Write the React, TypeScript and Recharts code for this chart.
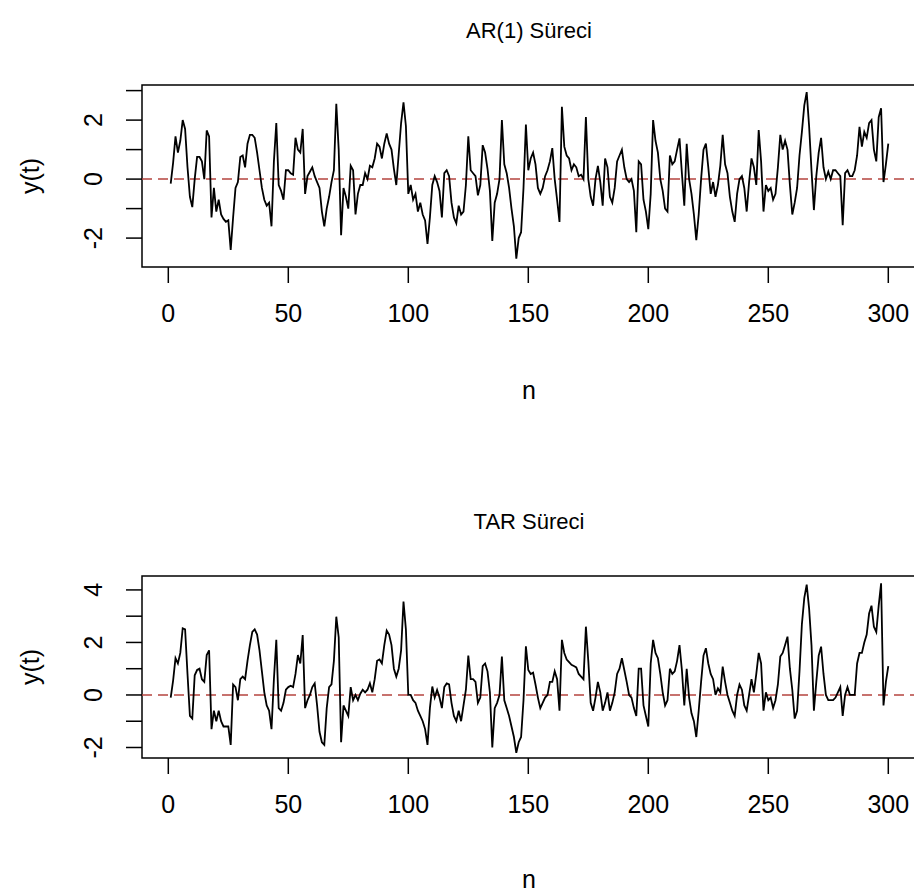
import React from 'react';
import { LineChart, Line, XAxis, YAxis, ReferenceLine, ReferenceArea } from 'recharts';

// ---- data ----
const arValues: number[] = [
  -0.15, 0.55, 1.45, 0.9, 1.3, 2.0, 1.7, 0.4, -0.6, -0.95,
  0.0, 0.75, 0.75, 0.6, 0.0, 1.65, 1.45, -1.3, -0.3, -1.1,
  -0.7, -1.2, -1.35, -1.45, -1.4, -2.4, -1.3, -0.3, -0.1, 0.75,
  0.8, 0.4, 1.2, 1.5, 1.5, 1.4, 0.9, 0.3, -0.3, -0.7,
  -0.9, -0.8, -1.6, 0.6, 1.9, -0.2, -0.4, -0.7, 0.3, 0.3,
  0.2, 0.15, 1.4, 1.0, 0.9, 1.7, -0.5, 0.1, 0.25, 0.4,
  0.1, -0.1, -0.3, -1.1, -1.6, -1.0, -0.6, -0.1, 0.3, 2.55,
  1.0, -1.9, -0.3, -0.6, -1.0, 0.45, 0.3, -1.2, -0.5, -0.2,
  -0.2, 0.2, 0.0, 0.45, 0.4, 0.7, 1.2, 1.1, 0.7, 1.2,
  1.55, 1.2, 1.0, 0.35, -0.2, 0.85, 1.9, 2.6, 1.8, -0.5,
  -0.2, -0.7, -0.5, -1.1, -0.8, -1.2, -1.4, -2.2, -1.3, -0.2,
  0.1, -0.1, -0.4, -1.3, 0.2, 0.3, 0.1, -0.8, -1.3, -1.5,
  -0.9, -1.2, -1.1, -0.2, 1.45, 0.3, 0.2, 0.1, -0.55, -0.2,
  1.15, 0.9, 0.35, -0.4, -2.1, -0.8, -0.5, 0.0, 2.0, 0.5,
  0.2, -0.3, -1.0, -1.6, -2.7, -2.0, -1.8, -0.3, 1.85, 0.3,
  0.7, 0.9, 0.5, -0.3, -0.5, -0.3, 0.1, 0.3, 0.6, 1.05,
  0.0, -0.7, -1.45, 2.45, 1.1, 0.8, 0.7, 0.3, 0.5, 0.4,
  0.1, 0.15, 0.0, 2.1, 0.0, -0.6, -0.9, 0.0, 0.45, -0.1,
  -0.9, 0.7, 0.4, -0.6, -0.8, -0.3, 0.6, 0.8, 1.0, 0.4,
  0.0, -0.1, 0.0, -0.4, -1.8, 0.6, 0.5, -0.7, -1.1, -1.7,
  -0.5, 2.0, 1.3, 0.9, 0.0, -0.4, -1.0, -1.1, 0.8, 0.5,
  0.6, 1.0, 1.38, 0.2, -0.9, 1.2, 0.0, -0.5, -1.2, -2.07,
  -1.2, 0.0, 1.0, 1.2, 0.4, -0.5, -0.1, -0.6, -0.2, 0.45,
  1.5, 0.5, 0.2, -0.6, -1.1, -1.45, -0.5, 0.0, 0.1, -0.3,
  -1.1, -0.1, 0.7, 0.4, -0.2, 1.66, 0.6, -1.1, -0.2, -0.4,
  -0.3, -0.7, -0.5, 0.4, 1.5, 1.0, 1.3, 1.0, -0.2, -1.2,
  -0.8, -0.3, 0.8, 1.6, 2.5, 2.95, 1.8, 0.3, -1.05, 0.1,
  0.9, 1.4, 0.4, 0.0, 0.25, 0.0, 0.3, 0.3, 0.2, 0.1,
  -1.56, 0.2, 0.3, 0.1, 0.1, 0.3, 0.8, 1.77, 1.1, 1.6,
  1.4, 1.9, 2.0, 1.0, 0.6, 2.1, 2.4, -0.1, 0.5, 1.2,
];

const tarValues: number[] = [
  -0.1, 0.55, 1.4, 1.2, 1.6, 2.54, 2.5, 0.8, -0.8, -0.9,
  0.75, 0.95, 1.0, 0.6, 0.5, 1.52, 1.7, -1.3, -0.6, -1.0,
  -0.6, -1.0, -1.2, -1.2, -1.2, -1.9, 0.4, 0.3, -0.2, 0.6,
  0.7, 0.6, 1.3, 1.9, 2.4, 2.5, 2.3, 1.7, 0.9, 0.1,
  -0.4, -0.6, -1.3, 0.6, 2.1, -0.5, -0.6, -0.3, 0.2, 0.3,
  0.35, 0.3, 0.8, 1.52, 1.2, 2.28, -0.5, -0.2, 0.0, 0.3,
  0.44, -0.4, -1.4, -1.8, -1.9, -0.5, 0.3, 0.4, 1.3, 2.98,
  2.2, -1.8, -0.4, -0.6, -0.8, 0.3, -0.2, 0.0, -0.2, 0.05,
  0.2, 0.1, 0.2, 0.45, 0.1, 0.6, 1.3, 1.35, 1.2, 1.9,
  2.45, 2.3, 1.9, 1.0, 0.7, 1.0, 1.7, 3.56, 2.5, 0.0,
  0.0, -0.2, -0.3, -0.6, -0.8, -1.0, -1.3, -1.9, -0.5, 0.32,
  -0.1, 0.19, -0.1, -0.5, 0.3, 0.44, 0.4, -0.3, -0.8, -1.0,
  -0.6, -1.0, -0.4, 0.2, 1.5, 0.6, 0.6, 0.5, -0.3, -0.1,
  1.1, 1.2, 0.9, 0.1, -2.0, -0.5, -0.3, 0.0, 1.46, -0.2,
  -0.5, -0.8, -1.2, -1.6, -2.2, -1.8, -1.6, -0.2, 1.85, 0.95,
  0.8, 0.85, 0.4, -0.1, -0.5, -0.3, -0.1, 0.0, 0.5, 0.5,
  0.9, 0.6, -0.6, 2.1, 1.6, 1.35, 1.25, 1.15, 1.1, 1.05,
  0.8, 0.7, 0.6, 2.6, 1.3, -0.3, -0.6, -0.1, 0.5, 0.1,
  -0.6, -0.3, 0.1, -0.6, -0.3, 0.1, 0.8, 1.0, 1.4, 0.95,
  0.5, 0.0, -0.1, -0.5, -0.8, 1.0, 1.0, -0.4, -0.8, -1.2,
  1.2, 2.1, 1.6, 1.4, 0.8, 0.1, -0.4, -0.2, 1.0, 0.8,
  0.9, 1.3, 1.9, 0.95, -0.4, 1.0, -0.1, -0.7, -1.0, -1.6,
  -0.6, 0.5, 1.5, 1.78, 1.2, 0.8, 0.6, 0.0, 0.25, 0.1,
  1.08, 0.5, 0.0, -0.3, -0.6, -0.8, 0.0, 0.4, 0.2, -0.4,
  -0.6, 0.0, 0.6, 0.1, 0.8, 1.6, 1.2, -0.6, 0.1, -0.2,
  -0.1, -0.5, -0.2, 0.4, 1.46, 1.6, 1.9, 2.22, 1.0, 0.2,
  -0.9, -0.6, 0.9, 2.7, 3.7, 4.2, 3.3, 1.9, -0.6, 0.5,
  1.5, 1.84, 0.8, 0.0, -0.2, -0.2, -0.2, -0.1, 0.1, 0.3,
  -0.8, 0.0, 0.3, 0.0, 0.0, 0.0, 1.2, 1.6, 1.6, 2.0,
  2.3, 3.1, 3.4, 2.6, 2.4, 3.4, 4.25, -0.4, 0.5, 1.1,
];

const nValues: number[] = arValues.map((_, i) => i + 1);

const xTicks = [0, 50, 100, 150, 200, 250, 300];
const xDomain: [number, number] = [-10.96, 311.96];

const arYTicks = [-2, -1, 0, 1, 2, 3];
const arYLabels = [-2, 0, 2];
const arYDomain: [number, number] = [-2.98, 3.19];

const tarYTicks = [-2, -1, 0, 1, 2, 3, 4];
const tarYLabels = [-2, 0, 2, 4];
const tarYDomain: [number, number] = [-2.4, 4.53];

const titles = ['AR(1) Süreci', 'TAR Süreci'];
const xTitle = 'n';
const yTitle = 'y(t)';

const FONT = '"Liberation Sans", Arial, Helvetica, sans-serif';

const arData = nValues.map((n, i) => ({ n, y: arValues[i] }));
const tarData = nValues.map((n, i) => ({ n, y: tarValues[i] }));

function makeYTick(labels: number[]) {
  return (props: any) => {
    const { y, payload } = props;
    if (!labels.includes(payload.value)) return <g />;
    return (
      <text
        x={93}
        y={y}
        transform={`rotate(-90 93 ${y})`}
        textAnchor="middle"
        dominantBaseline="central"
        fontSize={25}
        fontFamily={FONT}
        fill="#000"
      >
        {String(payload.value)}
      </text>
    );
  };
}

type PanelProps = {
  data: { n: number; y: number }[];
  yDomain: [number, number];
  yTicks: number[];
  yLabels: number[];
  top: number;
  marginTop: number;
  xAxisHeight: number;
};

function Panel({ data, yDomain, yTicks, yLabels, top, marginTop, xAxisHeight }: PanelProps) {
  return (
    <div style={{ position: 'absolute', left: 0, top, width: 930, height: 447 }}>
      <LineChart
        width={930}
        height={447}
        data={data}
        margin={{ top: marginTop, right: 13, bottom: 0, left: 0 }}
      >
        <XAxis
          dataKey="n"
          type="number"
          domain={xDomain}
          ticks={xTicks}
          allowDataOverflow
          interval={0}
          axisLine={false}
          tickLine={{ stroke: '#000', strokeWidth: 1.5 }}
          tickSize={16}
          tickMargin={21}
          height={xAxisHeight}
          tick={{ fill: '#000', fontSize: 25, fontFamily: FONT }}
        />
        <YAxis
          type="number"
          domain={yDomain}
          ticks={yTicks}
          allowDataOverflow
          interval={0}
          axisLine={false}
          tickLine={{ stroke: '#000', strokeWidth: 1.5 }}
          tickSize={16}
          width={142}
          tick={makeYTick(yLabels)}
        />
        <ReferenceArea
          x1={xDomain[0]}
          x2={xDomain[1]}
          y1={yDomain[0]}
          y2={yDomain[1]}
          fill="none"
          fillOpacity={0}
          stroke="#000"
          strokeWidth={1.5}
          ifOverflow="visible"
        />
        <ReferenceLine
          y={0}
          stroke="#b5443f"
          strokeWidth={1.5}
          strokeDasharray="10 6"
          ifOverflow="visible"
        />
        <Line
          type="linear"
          dataKey="y"
          stroke="#000"
          strokeWidth={1.8}
          dot={false}
          activeDot={false}
          isAnimationActive={false}
        />
      </LineChart>
    </div>
  );
}

export default function App() {
  return (
    <div
      style={{
        position: 'absolute',
        left: 0,
        top: 0,
        width: 914,
        height: 894,
        overflow: 'hidden',
        background: '#fff',
      }}
    >
      <Panel data={arData} yDomain={arYDomain} yTicks={arYTicks} yLabels={arYLabels} top={0} marginTop={85} xAxisHeight={180} />
      <Panel data={tarData} yDomain={tarYDomain} yTicks={tarYTicks} yLabels={tarYLabels} top={447} marginTop={129} xAxisHeight={136} />
      <svg width={914} height={894} style={{ position: 'absolute', left: 0, top: 0, pointerEvents: 'none' }}>
        <text x={529} y={30} textAnchor="middle" dominantBaseline="central" fontSize={22} fontFamily={FONT} fill="#000">{titles[0]}</text>
        <text x={529} y={521} textAnchor="middle" dominantBaseline="central" fontSize={22} fontFamily={FONT} fill="#000">{titles[1]}</text>
        <text x={529} y={390} textAnchor="middle" dominantBaseline="central" fontSize={25} fontFamily={FONT} fill="#000">{xTitle}</text>
        <text x={529} y={879} textAnchor="middle" dominantBaseline="central" fontSize={25} fontFamily={FONT} fill="#000">{xTitle}</text>
        <text x={30} y={176} transform="rotate(-90 30 176)" textAnchor="middle" dominantBaseline="central" fontSize={25} fontFamily={FONT} fill="#000">{yTitle}</text>
        <text x={30} y={667} transform="rotate(-90 30 667)" textAnchor="middle" dominantBaseline="central" fontSize={25} fontFamily={FONT} fill="#000">{yTitle}</text>
      </svg>
    </div>
  );
}
